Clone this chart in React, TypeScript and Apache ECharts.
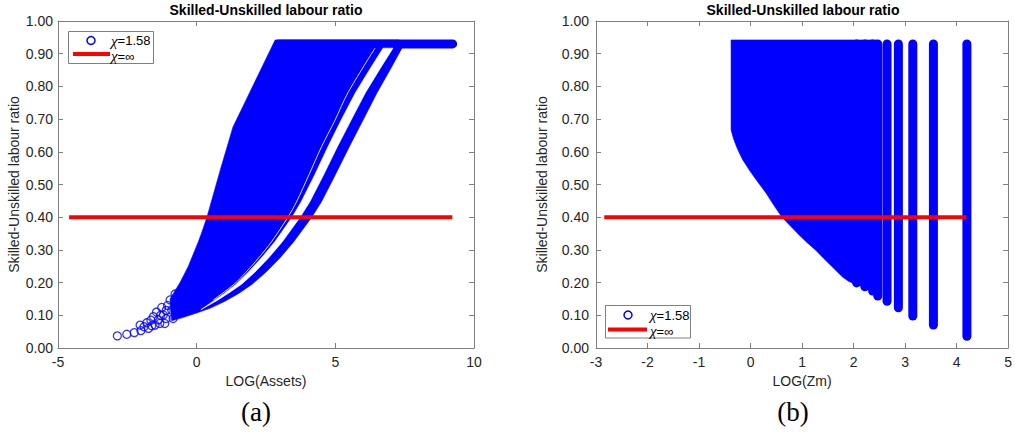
import React, { useEffect, useRef } from "react";
import * as echarts from "echarts";

type P = [number, number];

// ---------- Panel (a): LOG(Assets) ----------
const aXTicks = { min: -5, max: 10, interval: 5 };
// upper-left edge of the dense cloud (bottom -> top)
const aUpperEdge: P[] = [
  [-0.96, 0.150], [-0.78, 0.175], [-0.60, 0.200], [-0.45, 0.225], [-0.30, 0.250],
  [-0.18, 0.275], [-0.06, 0.300], [0.06, 0.325], [0.17, 0.350], [0.27, 0.375],
  [0.37, 0.400], [0.88, 0.553], [1.31, 0.676], [2.83, 0.942],
];
// outer right / lower edge of the cloud (top -> bottom)
const aOuterEdge: P[] = [
  [7.30, 0.942], [7.40, 0.917], [7.0, 0.855], [6.5, 0.78], [6.0, 0.697],
  [5.5, 0.615], [5.0, 0.53], [4.5, 0.447], [4.15, 0.40], [3.5, 0.325],
  [3.0, 0.275], [2.5, 0.232], [2.0, 0.195], [1.5, 0.166], [1.0, 0.142],
  [0.5, 0.122], [0.0, 0.107], [-0.5, 0.093], [-0.9, 0.083],
];
// white gap between main cloud and right band
const aGapLeft: P[] = [
  [6.72, 0.917], [6.26, 0.855], [5.72, 0.78], [5.21, 0.697], [4.73, 0.615],
  [4.26, 0.53], [3.77, 0.447], [3.44, 0.40], [2.82, 0.325], [2.33, 0.275],
  [1.86, 0.232], [1.42, 0.195], [0.98, 0.166], [0.66, 0.147], [0.15, 0.117],
];
const aGapRight: P[] = [
  [7.08, 0.917], [6.62, 0.855], [6.08, 0.78], [5.57, 0.697], [5.07, 0.615],
  [4.58, 0.53], [4.08, 0.447], [3.73, 0.40], [3.09, 0.325], [2.59, 0.275],
  [2.10, 0.232], [1.62, 0.195], [1.12, 0.166], [0.77, 0.147],
];
const aThinLine: P[] = [
  [6.43, 0.917], [5.45, 0.78], [4.99, 0.697], [4.50, 0.615], [4.05, 0.53],
  [3.60, 0.447], [3.29, 0.40], [2.70, 0.325], [2.23, 0.275], [1.78, 0.232],
  [1.35, 0.195], [0.60, 0.147],
];
const aPlateau: P[] = [[2.95, 0.93], [9.23, 0.93]];
const aFringe: P[] = [
  [-2.86, 0.037], [-2.52, 0.042], [-2.25, 0.047], [-2.01, 0.053], [-2.04, 0.070],
  [-1.80, 0.077], [-1.74, 0.060], [-1.56, 0.096], [-1.50, 0.070], [-1.38, 0.086],
  [-1.26, 0.124], [-1.20, 0.101], [-1.15, 0.075], [-0.96, 0.147], [-0.90, 0.116],
  [-0.78, 0.165], [-0.85, 0.090], [-1.45, 0.110], [-1.65, 0.085], [-1.05, 0.130],
  [-1.90, 0.065], [-1.62, 0.068], [-1.33, 0.075], [-1.10, 0.090], [-1.30, 0.100],
  [-1.10, 0.115],
];
const aRed: P[] = [[-4.6, 0.40], [9.22, 0.40]];

// ---------- Panel (b): LOG(Zm) ----------
const bXTicks = { min: -3, max: 5, interval: 1 };
const bMass: P[] = [
  [-0.378, 0.942], [2.45, 0.942], [2.45, 0.17], [2.0, 0.198], [1.91, 0.203],
  [1.78, 0.218], [1.58, 0.249], [1.42, 0.274], [1.26, 0.30], [1.10, 0.322],
  [0.94, 0.346], [0.78, 0.372], [0.61, 0.40], [0.45, 0.437], [0.30, 0.474],
  [0.13, 0.51], [-0.024, 0.544], [-0.08, 0.558], [-0.15, 0.575], [-0.217, 0.596],
  [-0.27, 0.615], [-0.33, 0.64], [-0.378, 0.667],
];
const bStripeX = [2.06, 2.22, 2.37, 2.47, 2.65, 2.87, 3.15, 3.55, 4.20];
const bStripeBottom = [0.199, 0.187, 0.174, 0.159, 0.143, 0.123, 0.098, 0.070, 0.036];
const bStripeTop = 0.93;
const bRed: P[] = [[-2.84, 0.40], [4.19, 0.40]];

const yTicks = { min: 0, max: 1, interval: 0.1 };

const BLUE = "#0000ff";
const RED = "#ff0000";
const AXIS = "#808080";
const TXT = "#262626";
const SANS = "Liberation Sans";
const SERIF = "Liberation Serif";
const TITLE = "Skilled-Unskilled labour ratio";
const YNAME = "Skilled-Unskilled labour ratio";

function polygonSeries(points: P[], xi: number, fill: string, z: number) {
  return {
    type: "custom",
    xAxisIndex: xi,
    yAxisIndex: xi,
    z,
    clip: true,
    silent: true,
    data: [[points[0][0], points[0][1]]],
    renderItem: (_p: any, api: any) => ({
      type: "polygon",
      shape: { points: points.map((pt) => api.coord(pt)) },
      style: { fill, stroke: fill, lineWidth: 0.6, lineJoin: "round" },
    }),
  };
}

function roundLineSeries(items: number[][], xi: number, width: number, z: number) {
  return {
    type: "custom",
    xAxisIndex: xi,
    yAxisIndex: xi,
    z,
    clip: false,
    silent: true,
    encode: { x: [0, 2], y: [1, 3] },
    data: items,
    renderItem: (_p: any, api: any) => {
      const p0 = api.coord([api.value(0), api.value(1)]);
      const p1 = api.coord([api.value(2), api.value(3)]);
      return {
        type: "line",
        shape: { x1: p0[0], y1: p0[1], x2: p1[0], y2: p1[1] },
        style: { stroke: BLUE, lineWidth: width, lineCap: "round" },
      };
    },
  };
}

function axesFor(grid: number, xt: { min: number; max: number; interval: number }, xname: string, yGap: number, yMargin: number) {
  const line = { show: true, onZero: false, lineStyle: { color: AXIS, width: 1 } };
  const tick = { show: true, inside: true, length: 5, lineStyle: { color: AXIS } };
  const label = { color: TXT, fontSize: 14, fontFamily: SANS };
  const nameStyle = { color: TXT, fontSize: 14, fontFamily: SANS };
  const xAxes = [
    {
      gridIndex: grid, type: "value", position: "bottom", ...xt,
      axisLine: line, axisTick: tick, splitLine: { show: false },
      axisLabel: { ...label, margin: 7, showMinLabel: true, showMaxLabel: true },
      name: xname, nameLocation: "middle", nameGap: 25, nameTextStyle: nameStyle,
    },
    {
      gridIndex: grid, type: "value", position: "top", ...xt,
      axisLine: line, axisTick: tick, splitLine: { show: false },
      axisLabel: { show: false },
    },
  ];
  const yAxes = [
    {
      gridIndex: grid, type: "value", position: "left", ...yTicks,
      axisLine: line, axisTick: tick, splitLine: { show: false },
      axisLabel: { ...label, margin: yMargin, formatter: (v: number) => v.toFixed(2), showMinLabel: true, showMaxLabel: true },
      name: YNAME, nameLocation: "middle", nameGap: yGap, nameTextStyle: nameStyle,
    },
    {
      gridIndex: grid, type: "value", position: "right", ...yTicks,
      axisLine: line, axisTick: tick, splitLine: { show: false },
      axisLabel: { show: false },
    },
  ];
  return { xAxes, yAxes };
}

function legendGraphics(box: [number, number, number, number], circle: P, lineSeg: [number, number, number], textX: number, textY1: number, textY2: number) {
  const rich = {
    g: { fontFamily: SERIF, fontStyle: "italic", fontSize: 15, fill: "#000" },
    n: { fontFamily: SANS, fontSize: 13, fill: "#000" },
  };
  return [
    { type: "rect", z: 100, shape: { x: box[0], y: box[1], width: box[2], height: box[3] }, style: { fill: "#fff", stroke: "#7f7f7f", lineWidth: 1 } },
    { type: "circle", z: 101, shape: { cx: circle[0], cy: circle[1], r: 4 }, style: { fill: "none", stroke: BLUE, lineWidth: 1.5 } },
    { type: "text", z: 101, x: textX, y: textY1, style: { text: "{g|χ}{n|=1.58}", rich, verticalAlign: "middle", align: "left" } },
    { type: "line", z: 101, shape: { x1: lineSeg[0], y1: lineSeg[2], x2: lineSeg[1], y2: lineSeg[2] }, style: { stroke: RED, lineWidth: 4 } },
    { type: "text", z: 101, x: textX, y: textY2, style: { text: "{g|χ}{n|=∞}", rich, verticalAlign: "middle", align: "left" } },
  ];
}

export default function App() {
  const ref = useRef<HTMLDivElement>(null);
  useEffect(() => {
    if (!ref.current) return;
    const chart = echarts.init(ref.current, undefined, { renderer: "svg" });
    const A = axesFor(0, aXTicks, "LOG(Assets)", 37, 5);
    const B = axesFor(1, bXTicks, "LOG(Zm)", 47, 7);

    const aPoly: P[] = [...aUpperEdge, ...aOuterEdge];
    const aGap: P[] = [...aGapLeft, ...aGapRight.slice().reverse()];

    const option: any = {
      animation: false,
      backgroundColor: "#ffffff",
      grid: [
        { left: 58, top: 21, width: 416, height: 327 },
        { left: 596, top: 21, width: 414, height: 327 },
      ],
      xAxis: [...A.xAxes, ...B.xAxes],
      yAxis: [...A.yAxes, ...B.yAxes],
      series: [
        // panel (a)
        polygonSeries(aPoly, 0, BLUE, 2),
        roundLineSeries([[aPlateau[0][0], aPlateau[0][1], aPlateau[1][0], aPlateau[1][1]]], 0, 9, 2),
        polygonSeries(aGap, 0, "#ffffff", 3),
        {
          type: "line", xAxisIndex: 0, yAxisIndex: 0, z: 3, silent: true,
          data: aThinLine, showSymbol: false, symbol: "none", smooth: 0.3,
          lineStyle: { color: "#ffffff", width: 1, opacity: 0.85 },
        },
        {
          type: "scatter", xAxisIndex: 0, yAxisIndex: 0, z: 2, silent: true,
          data: aFringe, symbol: "circle", symbolSize: 8,
          itemStyle: { color: "rgba(0,0,0,0)", borderColor: BLUE, borderWidth: 1.3 },
        },
        {
          type: "line", xAxisIndex: 0, yAxisIndex: 0, z: 5, silent: true,
          data: aRed, showSymbol: false, symbol: "none",
          lineStyle: { color: RED, width: 4 },
        },
        // panel (b)
        polygonSeries(bMass, 2, BLUE, 2),
        roundLineSeries(bStripeX.map((x, i) => [x, bStripeBottom[i], x, bStripeTop]), 2, 9, 2),
        {
          type: "line", xAxisIndex: 2, yAxisIndex: 2, z: 5, silent: true,
          data: bRed, showSymbol: false, symbol: "none",
          lineStyle: { color: RED, width: 4 },
        },
      ],
      graphic: [
        { type: "text", z: 100, x: 266, y: 10, style: { text: TITLE, fontFamily: SANS, fontWeight: "bold", fontSize: 14, fill: "#000", align: "center", verticalAlign: "middle" } },
        { type: "text", z: 100, x: 803, y: 10, style: { text: TITLE, fontFamily: SANS, fontWeight: "bold", fontSize: 14, fill: "#000", align: "center", verticalAlign: "middle" } },
        { type: "text", z: 100, x: 256, y: 412, style: { text: "(a)", fontFamily: SERIF, fontSize: 27, fill: "#000", align: "center", verticalAlign: "middle" } },
        { type: "text", z: 100, x: 793, y: 412, style: { text: "(b)", fontFamily: SERIF, fontSize: 27, fill: "#000", align: "center", verticalAlign: "middle" } },
        ...legendGraphics([68.5, 31.5, 85, 32], [91, 40.5], [73, 110, 54], 111, 40.5, 56),
        ...legendGraphics([605.5, 305.5, 85, 32.5], [628, 315], [608, 647, 329.5], 650, 315, 331),
      ],
    };
    chart.setOption(option);
    return () => chart.dispose();
  }, []);
  return (
    <div
      ref={ref}
      style={{ position: "absolute", left: 0, top: 0, width: 1015, height: 436 }}
    />
  );
}
